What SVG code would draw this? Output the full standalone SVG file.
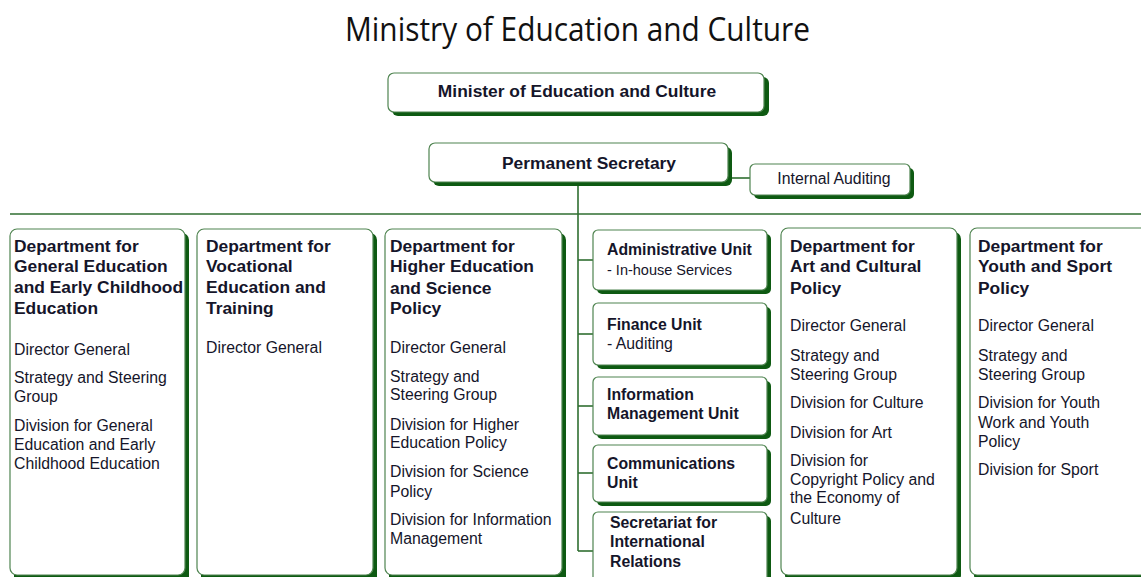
<svg xmlns="http://www.w3.org/2000/svg" width="1141" height="577" viewBox="0 0 1141 577">
<style>
.sh{fill:#0e5a12}
.bx{fill:#fff;stroke:#4f8450;stroke-width:1.2}
.ln{stroke:#2f6e30;stroke-width:1.6;fill:none}
.b{font-family:"Liberation Sans",Arial,sans-serif;font-weight:bold;font-size:17.4px;fill:#15152a}
.bu{font-family:"Liberation Sans",Arial,sans-serif;font-weight:bold;font-size:15.8px;fill:#15152a}
.r{font-family:"Liberation Sans",Arial,sans-serif;font-size:15.8px;fill:#15152a}
.rs{font-family:"Liberation Sans",Arial,sans-serif;font-size:14.5px;fill:#15152a}
.t{font-family:"Open Sans","Noto Sans",sans-serif;font-size:32px;fill:#111}
</style>
<rect width="1141" height="577" fill="#fff"/>
<text class="t" x="345" y="41" textLength="465" lengthAdjust="spacingAndGlyphs">Ministry of Education and Culture</text>

<g id="connectors">
<line class="ln" x1="578" y1="182" x2="578" y2="551"/>
<line class="ln" x1="10" y1="214" x2="1141" y2="214"/>
<line class="ln" x1="728" y1="178" x2="750" y2="178"/>
<line class="ln" x1="578" y1="260" x2="593" y2="260"/>
<line class="ln" x1="578" y1="334" x2="593" y2="334"/>
<line class="ln" x1="578" y1="406" x2="593" y2="406"/>
<line class="ln" x1="578" y1="473" x2="593" y2="473"/>
<line class="ln" x1="578" y1="551" x2="593" y2="551"/>
</g>

<g id="minister">
<rect class="sh" x="392" y="77" width="377" height="39" rx="6"/>
<rect class="bx" x="388" y="73" width="376" height="39" rx="6"/>
<text class="b" x="577" y="97" text-anchor="middle">Minister of Education and Culture</text>
</g>

<g id="permanent-secretary">
<rect class="sh" x="433" y="147" width="299" height="39" rx="6"/>
<rect class="bx" x="429" y="143" width="299" height="39" rx="6"/>
<text class="b" x="589" y="169" text-anchor="middle">Permanent Secretary</text>
</g>

<g id="internal-auditing">
<rect class="sh" x="754" y="168" width="160" height="31" rx="5"/>
<rect class="bx" x="750" y="164" width="160" height="31" rx="5"/>
<text class="r" x="834" y="184" text-anchor="middle">Internal Auditing</text>
</g>

<g id="dept-general">
<rect class="sh" x="14" y="233" width="175" height="350" rx="7"/>
<rect class="bx" x="10" y="229" width="175" height="346" rx="7"/>
<text class="b" x="14"><tspan x="14" y="252">Department for</tspan><tspan x="14" y="272">General Education</tspan><tspan x="14" y="293">and Early Childhood</tspan><tspan x="14" y="314">Education</tspan></text>
<text class="r"><tspan x="14" y="355">Director General</tspan><tspan x="14" y="383">Strategy and Steering</tspan><tspan x="14" y="402">Group</tspan><tspan x="14" y="431">Division for General</tspan><tspan x="14" y="450">Education and Early</tspan><tspan x="14" y="469">Childhood Education</tspan></text>
</g>

<g id="dept-vocational">
<rect class="sh" x="201" y="233" width="176" height="350" rx="7"/>
<rect class="bx" x="197" y="229" width="176" height="346" rx="7"/>
<text class="b"><tspan x="206" y="252">Department for</tspan><tspan x="206" y="272">Vocational</tspan><tspan x="206" y="293">Education and</tspan><tspan x="206" y="314">Training</tspan></text>
<text class="r"><tspan x="206" y="353">Director General</tspan></text>
</g>

<g id="dept-higher">
<rect class="sh" x="389" y="233" width="177" height="350" rx="7"/>
<rect class="bx" x="385" y="229" width="177" height="346" rx="7"/>
<text class="b"><tspan x="390" y="252">Department for</tspan><tspan x="390" y="272">Higher Education</tspan><tspan x="390" y="294">and Science</tspan><tspan x="390" y="314">Policy</tspan></text>
<text class="r"><tspan x="390" y="353">Director General</tspan><tspan x="390" y="382">Strategy and</tspan><tspan x="390" y="400">Steering Group</tspan><tspan x="390" y="430">Division for Higher</tspan><tspan x="390" y="448">Education Policy</tspan><tspan x="390" y="477">Division for Science</tspan><tspan x="390" y="497">Policy</tspan><tspan x="390" y="525">Division for Information</tspan><tspan x="390" y="544">Management</tspan></text>
</g>

<g id="unit-admin">
<rect class="sh" x="597" y="234" width="174" height="60" rx="5"/>
<rect class="bx" x="593" y="230" width="174" height="60" rx="5"/>
<text class="bu" x="607" y="255">Administrative Unit</text>
<text class="rs" x="607" y="275">- In-house Services</text>
</g>

<g id="unit-finance">
<rect class="sh" x="597" y="307" width="174" height="62" rx="5"/>
<rect class="bx" x="593" y="303" width="174" height="62" rx="5"/>
<text class="bu" x="607" y="330">Finance Unit</text>
<text class="r" x="607" y="349">- Auditing</text>
</g>

<g id="unit-information">
<rect class="sh" x="597" y="381" width="174" height="58" rx="5"/>
<rect class="bx" x="593" y="377" width="174" height="58" rx="5"/>
<text class="bu"><tspan x="607" y="400">Information</tspan><tspan x="607" y="419">Management Unit</tspan></text>
</g>

<g id="unit-communications">
<rect class="sh" x="597" y="449" width="174" height="57" rx="5"/>
<rect class="bx" x="593" y="445" width="174" height="57" rx="5"/>
<text class="bu"><tspan x="607" y="469">Communications</tspan><tspan x="607" y="488">Unit</tspan></text>
</g>

<g id="unit-secretariat">
<rect class="sh" x="597" y="516" width="174" height="70" rx="5"/>
<rect class="bx" x="593" y="512" width="174" height="70" rx="5"/>
<text class="bu"><tspan x="610" y="528">Secretariat for</tspan><tspan x="610" y="547">International</tspan><tspan x="610" y="567">Relations</tspan></text>
</g>

<g id="dept-art">
<rect class="sh" x="785" y="232" width="176" height="350" rx="7"/>
<rect class="bx" x="781" y="228" width="176" height="347" rx="7"/>
<text class="b"><tspan x="790" y="252">Department for</tspan><tspan x="790" y="272">Art and Cultural</tspan><tspan x="790" y="294">Policy</tspan></text>
<text class="r"><tspan x="790" y="331">Director General</tspan><tspan x="790" y="361">Strategy and</tspan><tspan x="790" y="380">Steering Group</tspan><tspan x="790" y="408">Division for Culture</tspan><tspan x="790" y="438">Division for Art</tspan><tspan x="790" y="466">Division for</tspan><tspan x="790" y="485">Copyright Policy and</tspan><tspan x="790" y="503">the Economy of</tspan><tspan x="790" y="524">Culture</tspan></text>
</g>

<g id="dept-youth">
<rect class="sh" x="974" y="232" width="180" height="350" rx="7"/>
<rect class="bx" x="970" y="228" width="180" height="347" rx="7"/>
<text class="b"><tspan x="978" y="252">Department for</tspan><tspan x="978" y="272">Youth and Sport</tspan><tspan x="978" y="294">Policy</tspan></text>
<text class="r"><tspan x="978" y="331">Director General</tspan><tspan x="978" y="361">Strategy and</tspan><tspan x="978" y="380">Steering Group</tspan><tspan x="978" y="408">Division for Youth</tspan><tspan x="978" y="428">Work and Youth</tspan><tspan x="978" y="447">Policy</tspan><tspan x="978" y="475">Division for Sport</tspan></text>
</g>
</svg>
